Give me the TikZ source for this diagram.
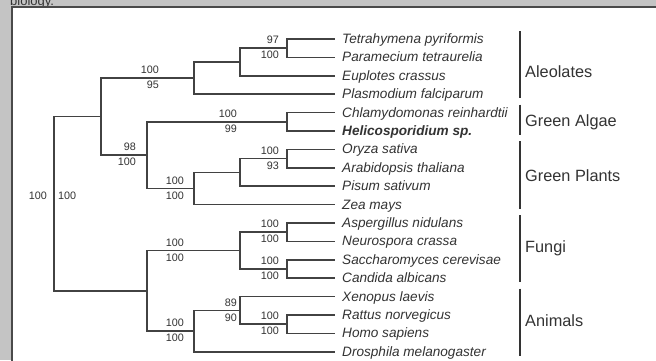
\documentclass[tikz,border=0pt]{standalone}
\usepackage{fontspec}
\setmainfont{Liberation Sans}
\usetikzlibrary{calc}
\definecolor{bggray}{HTML}{C4C4C4}
\definecolor{boxline}{HTML}{4A4A4A}
\definecolor{treeline}{HTML}{424242}
\definecolor{txt}{HTML}{333333}
\newcommand{\ly}[1]{39+18.4*#1}
\begin{document}
\begin{tikzpicture}[x=1pt,y=-1pt,
  branch/.style={draw=treeline, line width=1.5pt},
  leaf/.style={anchor=west, inner xsep=7pt, inner ysep=0pt, text=txt,
    font=\itshape\fontsize{13.6}{15}\selectfont, text height=9pt, text depth=0pt},
  bs/.style={inner sep=0pt, text=txt, font=\fontsize{10.8}{12}\selectfont},
  bsup/.style={bs, anchor=south east, yshift=4pt},
  bsdn/.style={bs, anchor=north east, yshift=-3pt},
  bar/.style={draw=txt, line width=2pt},
  group/.style={anchor=base west, inner sep=0pt, text=txt, font=\fontsize{16.3}{18}\selectfont}]
\useasboundingbox (0,0) rectangle (656,360);
\fill[bggray] (0,0) rectangle (656,360);
\node[anchor=base west, inner sep=0pt, text=txt, font=\fontsize{13}{15}\selectfont] (caption) at (10,5) {biology.};
\filldraw[fill=white, draw=boxline, line width=1.2pt] (12,7) rectangle (670,370);
\foreach \nm/\txt [count=\k from 0] in {tetra/Tetrahymena pyriformis, para/Paramecium tetraurelia,
    eup/Euplotes crassus, plas/Plasmodium falciparum, chlam/Chlamydomonas reinhardtii,
    heli/{\bfseries Helicosporidium sp.}, oryza/Oryza sativa, arab/Arabidopsis thaliana,
    pisum/Pisum sativum, zea/Zea mays, asp/Aspergillus nidulans, neuro/Neurospora crassa,
    sacch/Saccharomyces cerevisae, cand/Candida albicans, xeno/Xenopus laevis,
    rattus/Rattus norvegicus, homo/Homo sapiens, dros/Drosphila melanogaster}
  \node[leaf] (\nm) at (335,{\ly{\k}}) {\txt};
\coordinate (a1) at (287,{\ly{0.5}});
\coordinate (a2) at (240,{\ly{1.25}});
\coordinate (a3) at (194,{\ly{2.125}});
\coordinate (g1) at (287,{\ly{4.5}});
\coordinate (p1) at (287,{\ly{6.5}});
\coordinate (p2) at (240,{\ly{7.25}});
\coordinate (p3) at (194,{\ly{8.125}});
\coordinate (gp) at (147,{\ly{6.3125}});
\coordinate (up) at (101,{\ly{4.21875}});
\coordinate (f1) at (287,{\ly{10.5}});
\coordinate (f2) at (287,{\ly{12.5}});
\coordinate (f3) at (240,{\ly{11.5}});
\coordinate (m1) at (287,{\ly{15.5}});
\coordinate (m2) at (240,{\ly{14.75}});
\coordinate (m3) at (194,{\ly{15.875}});
\coordinate (lo) at (147,{\ly{13.6875}});
\coordinate (root) at (54,{\ly{8.953125}});
\foreach \pa/\ch in {a1/tetra.west, a1/para.west, a2/a1, a2/eup.west, a3/a2, a3/plas.west,
    g1/chlam.west, g1/heli.west, p1/oryza.west, p1/arab.west, p2/p1, p2/pisum.west,
    p3/p2, p3/zea.west, gp/g1, gp/p3, up/a3, up/gp,
    f1/asp.west, f1/neuro.west, f2/sacch.west, f2/cand.west, f3/f1, f3/f2,
    m1/rattus.west, m1/homo.west, m2/xeno.west, m2/m1, m3/m2, m3/dros.west,
    lo/f3, lo/m3, root/up, root/lo}
  \draw[branch] (\pa) |- (\ch);
\foreach \nd/\xr/\tp/\bt in {a1/279/97/100, a3/159/100/95, g1/237/100/99, gp/136/98/100,
    p1/279/100/93, p3/184/100/100, f1/279/100/100, f2/279/100/100, f3/184/100/100,
    m1/279/100/100, m2/237/89/90, m3/184/100/100}
{
  \node[bsup] (\nd-t) at (\xr,0 |- \nd) {\tp};
  \node[bsdn] (\nd-b) at (\xr,0 |- \nd) {\bt};
}
\node[bs, anchor=east] (root-l) at ([xshift=-7pt,yshift=8pt]root) {100};
\node[bs, anchor=west] (root-r) at ([xshift=4pt,yshift=8pt]root) {100};
\foreach \gname/\first/\last/\base [count=\g] in {Aleolates/0/3/77, Green Algae/4/5/126,
    Green Plants/6/9/181, Fungi/10/13/252.7, Animals/14/17/326.7}
{
  \draw[bar] (520,{\ly{\first}-8}) -- (520,{\ly{\last}+4});
  \node[group] (grp\g) at (525,\base) {\gname};
}
\end{tikzpicture}
\end{document}
